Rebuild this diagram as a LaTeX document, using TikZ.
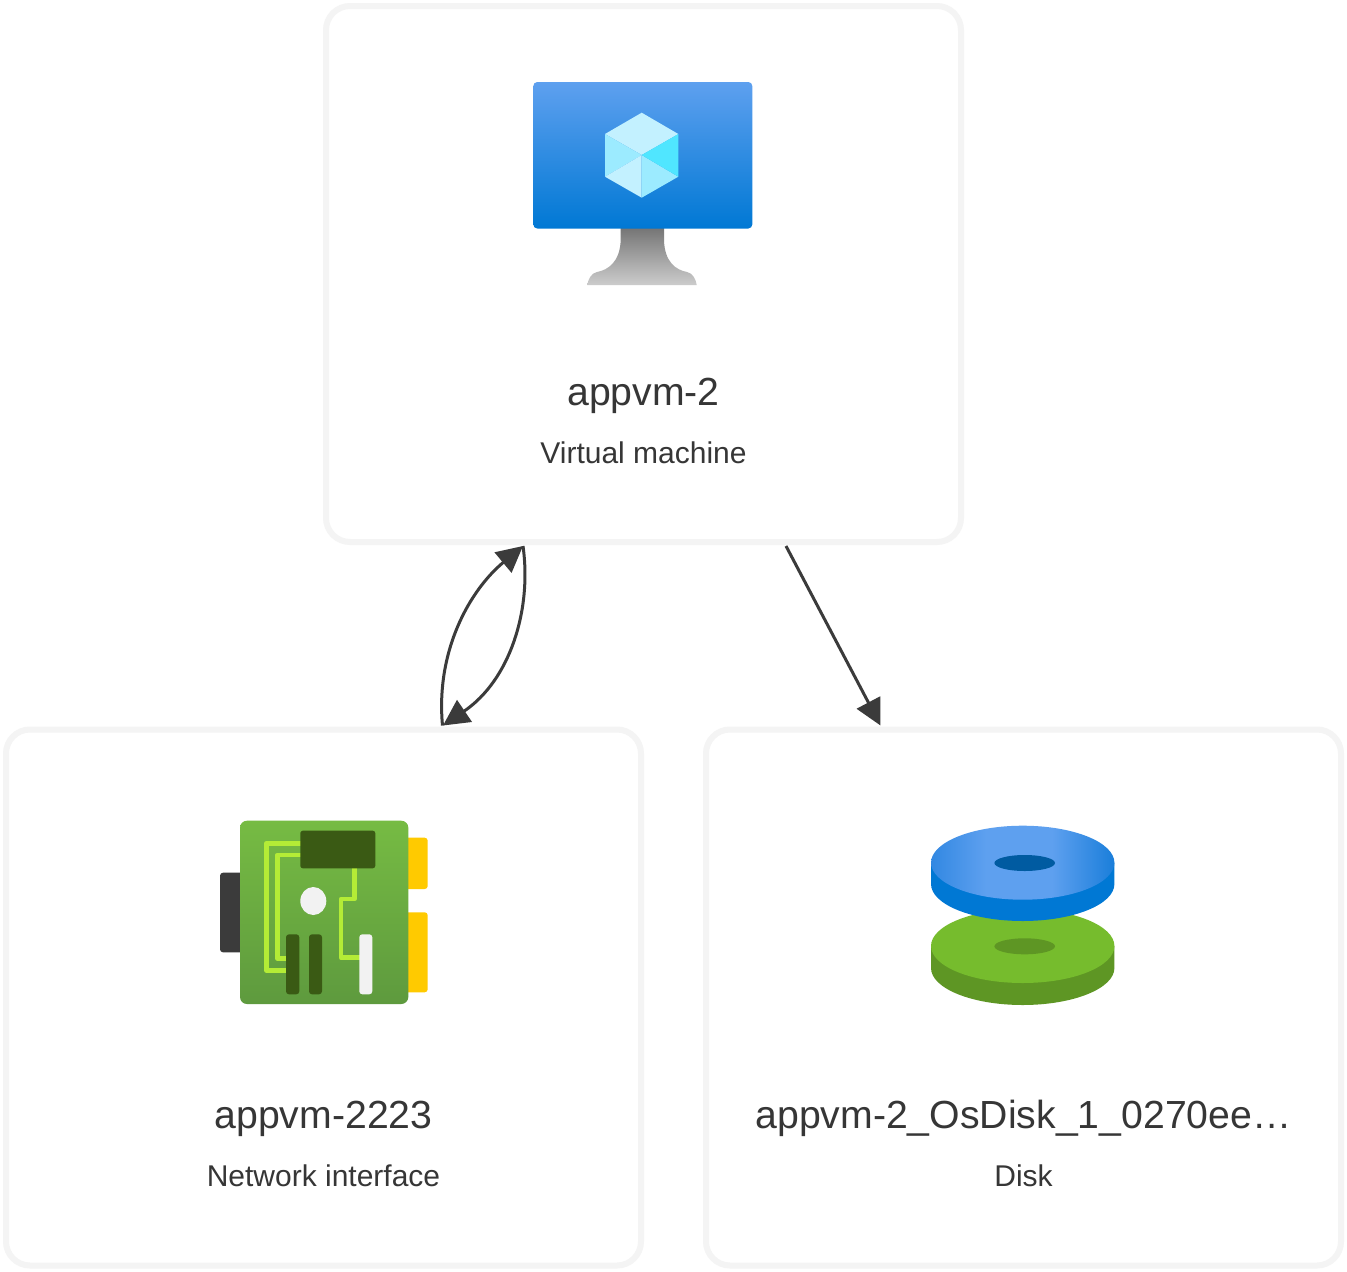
\documentclass[tikz,border=0pt]{standalone}
\usepackage{fontspec}
\setmainfont{Liberation Sans}
\usetikzlibrary{arrows.meta}
\definecolor{boxline}{HTML}{F4F4F4}
\definecolor{ink}{HTML}{363636}
\definecolor{wire}{HTML}{3B3B3B}
\definecolor{azhi}{HTML}{5EA0EF}
\definecolor{azlo}{HTML}{0078D4}
\definecolor{azdk}{HTML}{005BA1}
\definecolor{azleft}{HTML}{3288E2}
\definecolor{azright}{HTML}{1A7EDA}
\definecolor{cubea}{HTML}{C3F1FF}
\definecolor{cubeb}{HTML}{9CEBFF}
\definecolor{cubec}{HTML}{50E6FF}
\definecolor{greenhi}{HTML}{76BC2D}
\definecolor{greenlo}{HTML}{5E9624}
\definecolor{boardhi}{HTML}{76BB43}
\definecolor{boardlo}{HTML}{5E9A3E}
\definecolor{greendk}{HTML}{3A5A14}
\definecolor{trace}{HTML}{B4EC36}
\definecolor{paleg}{HTML}{F2F2F2}
\definecolor{amber}{HTML}{FFCA00}
\pgfdeclarehorizontalshading{diskface}{100bp}{color(0bp)=(azleft);color(25bp)=(azleft);color(40bp)=(azhi);color(58bp)=(azhi);color(75bp)=(azright);color(100bp)=(azright)}
\tikzset{
  card/.style={draw=boxline,line width=6pt,rounded corners=24pt,minimum width=635pt,minimum height=536pt,inner sep=0pt,outer sep=0pt,fill=white},
  titletext/.style={anchor=base,text=ink,inner sep=0pt,font=\fontsize{39.2}{46}\selectfont},
  subtext/.style={anchor=base,text=ink,inner sep=0pt,font=\fontsize{30}{36}\selectfont},
  link/.style={draw=wire,line width=3pt,-{Triangle[length=26pt,width=26pt]}},
  tracewire/.style={draw=trace,line width=4.6pt,line join=round,line cap=round},
}
\begin{document}
\begin{tikzpicture}[x=1pt,y=-1pt]
\useasboundingbox (0,0) rectangle (1347,1272);
\fill[white] (0,0) rectangle (1347,1272);
\node[card] (vm) at (643.5,274) {};
\node[card] (nic) at (323.5,997.5) {};
\node[card] (disk) at (1023.5,997.5) {};
% monitor
\shade[top color=black!54,bottom color=black!20] (620.7,228) -- (620.7,240)
  .. controls (620,262) and (608,270) .. (597,272)
  .. controls (591,273) and (588,280) .. (587.3,285) -- (696.7,285)
  .. controls (696,280) and (693,273) .. (687,272)
  .. controls (676,270) and (664.5,262) .. (664,240) -- (664,228) -- cycle;
\shade[top color=azhi,bottom color=azlo,rounded corners=4pt] (533.3,82) rectangle (752.3,228.5);
\fill[cubea] (641.7,112.7) -- (678.3,134) -- (641.7,155) -- (605,134) -- cycle;
\fill[cubeb] (605,134) -- (641.7,155) -- (605,176.7) -- cycle;
\fill[cubea] (605,176.7) -- (641.7,155) -- (641.7,197.7) -- cycle;
\fill[cubeb] (641.7,197.7) -- (641.7,155) -- (678.3,176.7) -- cycle;
\fill[cubec] (678.3,176.7) -- (641.7,155) -- (678.3,134) -- cycle;
% network card
\fill[wire,rounded corners=3pt] (220,872.7) rectangle (246,952.3);
\fill[amber,rounded corners=3pt] (400,837.7) rectangle (427.7,889);
\fill[amber,rounded corners=3pt] (400,912.3) rectangle (427.7,992.3);
\shade[top color=boardhi,bottom color=boardlo,rounded corners=7pt] (240,820.7) rectangle (408.3,1004);
\draw[tracewire] (302,843.3) -- (266.3,843.3) -- (266.3,970.3) -- (288,970.3);
\draw[tracewire] (302,855) -- (277.3,855) -- (277.3,958.3) -- (288,958.3);
\draw[tracewire] (354.3,866) -- (354.3,899) -- (341,899) -- (341,957.7) -- (361,957.7);
\fill[greendk,rounded corners=2.5pt] (300.3,830.7) rectangle (375.3,868.3);
\fill[paleg] (313.3,901) ellipse [x radius=13,y radius=14];
\fill[greendk,rounded corners=3pt] (286,934.3) rectangle (299.3,994.3);
\fill[greendk,rounded corners=3pt] (309,934.3) rectangle (322,994.3);
\fill[paleg,rounded corners=3pt] (359.3,934.3) rectangle (372.3,994.3);
% disk
\fill[greenlo] (931,946) -- (931,968) arc[start angle=180,end angle=0,x radius=91.7,y radius=37] -- (1114.4,946) -- cycle;
\fill[greenhi] (1022.7,946) ellipse [x radius=91.7,y radius=37];
\fill[greenlo] (1024.7,946.3) ellipse [x radius=30.3,y radius=8];
\fill[azlo] (931,862.7) -- (931,884) arc[start angle=180,end angle=0,x radius=91.7,y radius=37] -- (1114.4,862.7) -- cycle;
\shade[shading=diskface] (1022.7,862.7) ellipse [x radius=91.7,y radius=37];
\fill[azdk] (1024.7,863) ellipse [x radius=30.3,y radius=8];
% labels
\node[titletext] (vmname) at (643.5,405) {appvm-2};
\node[subtext] (vmtype) at (643.5,463) {Virtual machine};
\node[titletext] (nicname) at (323.5,1128) {appvm-2223};
\node[subtext] (nictype) at (323.5,1186) {Network interface};
\node[titletext] (diskname) at (1023.5,1128) {appvm-2\_OsDisk\_1\_0270ee…};
\node[subtext] (disktype) at (1023.5,1186) {Disk};
% connectors
\draw[link] ([xshift=119pt,yshift=4pt]nic.north) .. controls +(-7,-75) and (470,590) .. ([xshift=-120.5pt,yshift=-4pt]vm.south);
\draw[link] ([xshift=-120.5pt,yshift=-4pt]vm.south) .. controls +(9,64) and (510,680) .. ([xshift=119.5pt,yshift=4pt]nic.north);
\draw[link] ([xshift=142.5pt,yshift=-4pt]vm.south) -- ([xshift=-143pt,yshift=4pt]disk.north);
\end{tikzpicture}
\end{document}
